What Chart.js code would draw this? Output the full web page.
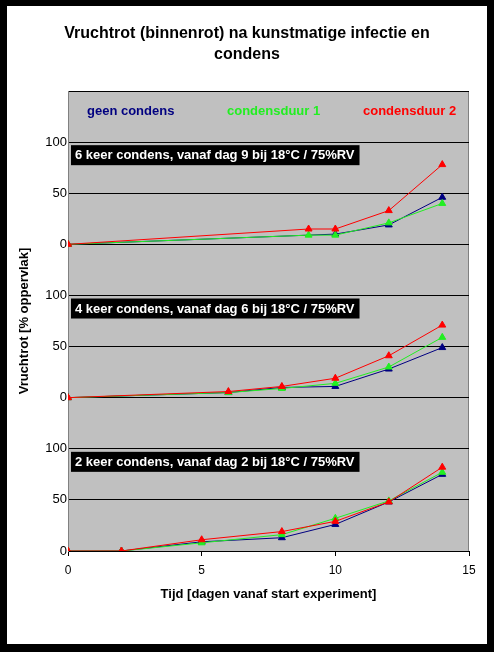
<!DOCTYPE html>
<html>
<head>
<meta charset="utf-8">
<script src="https://cdn.jsdelivr.net/npm/chart.js@4.4.1/dist/chart.umd.min.js"></script>
<style>
    body { margin: 0; background: #000; }
    #frame { position: absolute; left: 7px; top: 6px; width: 480px; height: 638px; background: #fff; }
</style>
</head>
<body>
<div id="frame"><canvas id="rotChart" width="480" height="638"></canvas></div>
<script>
// reeksen
const seriesNames = ['geen condens', 'condensduur 1', 'condensduur 2'];
const seriesColors = ['#000080', '#22ee22', '#ff0000'];
const panelTitles = [
    '6 keer condens, vanaf dag 9 bij 18°C / 75%RV',
    '4 keer condens, vanaf dag 6 bij 18°C / 75%RV',
    '2 keer condens, vanaf dag 2 bij 18°C / 75%RV'
];
const panelOffsets = [300, 150, 0]; // elk paneel 0-100, verschoven op één as

// 6 keer condens
const days6x = [0, 9, 10, 12, 14];
const geen6x = [0, null, 10, 19, 46];
const duur1_6x = [0, 9, 9, 21, 40];
const duur2_6x = [0, 15, 15, 33, 78];
// 4 keer condens
const days4x = [0, 6, 8, 10, 12, 14];
const geen4x = [0, 5, 10, 11, 28, 49];
const duur1_4x = [0, 5, 9, 14, 30, 59];
const duur2_4x = [0, 6, 11, 19, 41, 71];
// 2 keer condens
const days2x = [0, 2, 5, 8, 10, 12, 14];
const geen2x = [0, 0, 9, 13, 26, 48, 75];
const duur1_2x = [0, 0, 8, 16, 32, 49, 77];
const duur2_2x = [0, 0, 11, 19, 29, 48, 82];

const xTicks = [0, 5, 10, 15];
const yTickLabels = ['0', '50', '100'];

const panels = [
    { days: days6x, values: [geen6x, duur1_6x, duur2_6x] },
    { days: days4x, values: [geen4x, duur1_4x, duur2_4x] },
    { days: days2x, values: [geen2x, duur1_2x, duur2_2x] }
];

const FONT = 'Arial, "Liberation Sans", sans-serif';

const datasets = [];
panels.forEach((panel, p) => {
    panel.values.forEach((vals, s) => {
        datasets.push({
            label: seriesNames[s],
            data: panel.days.map((d, i) => ({ x: d, y: vals[i] === null ? null : vals[i] + panelOffsets[p] })),
            borderColor: seriesColors[s],
            backgroundColor: seriesColors[s],
            borderWidth: 1,
            pointStyle: 'triangle',
            pointRadius: 4,
            pointBorderWidth: 1,
            spanGaps: true,
            order: 3 - s // rood bovenop
        });
    });
});

// grijze achtergrond, kaders, paneeltitels en legenda
const plotDecor = {
    id: 'plotDecor',
    beforeDraw(chart) {
        const { ctx, chartArea: a } = chart;
        ctx.save();
        ctx.fillStyle = '#c0c0c0';
        ctx.fillRect(a.left, a.top, a.width, a.height);
        ctx.strokeStyle = '#808080';
        ctx.lineWidth = 1;
        ctx.strokeRect(a.left + 0.5, a.top + 0.5, a.width - 1, a.height);
        ctx.restore();
    },
    afterDraw(chart) {
        const { ctx, chartArea: a, scales } = chart;
        ctx.save();
        ctx.textBaseline = 'middle';
        // paneeltitels
        ctx.font = 'bold 13px ' + FONT;
        panelTitles.forEach((t, p) => {
            const top = scales.y.getPixelForValue(panelOffsets[p] + 97);
            const w = ctx.measureText(t).width;
            ctx.fillStyle = '#000';
            ctx.fillRect(a.left + 3, top, w + 9, 20);
            ctx.fillStyle = '#fff';
            ctx.textAlign = 'left';
            ctx.fillText(t, a.left + 7, top + 10.5);
        });
        // legenda als tekst
        const legendX = [a.left + 19, a.left + 159, a.left + 295];
        ctx.font = 'bold 13px ' + FONT;
        seriesNames.forEach((n, s) => {
            ctx.fillStyle = seriesColors[s];
            ctx.fillText(n, legendX[s], a.top + 20);
        });
        ctx.restore();
    }
};

const ctx = document.getElementById('rotChart').getContext('2d');
const rotChart = new Chart(ctx, {
    type: 'line',
    data: { datasets: datasets },
    plugins: [plotDecor],
    options: {
        responsive: false,
        animation: false,
        layout: { padding: { left: 9, right: 9, top: 0, bottom: 0 } },
        plugins: {
            legend: { display: false },
            tooltip: { enabled: false },
            title: {
                display: true,
                text: ['Vruchtrot (binnenrot) na kunstmatige infectie en', 'condens'],
                color: '#000',
                font: { family: FONT, size: 16, weight: 'bold', lineHeight: '21px' },
                padding: { top: 17, bottom: 26 }
            }
        },
        scales: {
            x: {
                type: 'linear',
                min: 0,
                max: 15,
                afterBuildTicks: (scale) => { scale.ticks = xTicks.map(v => ({ value: v })); },
                afterFit: (scale) => { scale.height = 93; },
                grid: { drawOnChartArea: false, drawTicks: true, tickLength: 5, color: '#000' },
                border: { color: '#000', width: 1 },
                ticks: { color: '#000', padding: 7, font: { family: FONT, size: 12 } },
                title: {
                    display: true,
                    text: 'Tijd [dagen vanaf start experiment]',
                    color: '#000',
                    font: { family: FONT, size: 13, weight: 'bold' },
                    padding: { top: 0, bottom: 42 }
                }
            },
            y: {
                min: 0,
                max: 450,
                afterFit: (scale) => { scale.width = 52; },
                grid: { color: '#000', drawTicks: false },
                border: { color: '#808080' },
                ticks: {
                    stepSize: 50,
                    padding: 1,
                    color: '#000',
                    font: { family: FONT, size: 13 },
                    callback: function(value) {
                        if (value >= 450) return '';
                        return yTickLabels[(value % 150) / 50];
                    }
                },
                title: {
                    display: true,
                    text: 'Vruchtrot [% oppervlak]',
                    color: '#000',
                    font: { family: FONT, size: 13, weight: 'bold' },
                    padding: { top: 1, bottom: 0 }
                }
            },
            // lege rechteras, alleen voor ruimte rechts van het plotvlak
            yRight: {
                position: 'right',
                min: 0,
                max: 450,
                afterFit: (scale) => { scale.width = 9; },
                grid: { drawOnChartArea: false, drawTicks: false },
                border: { display: false },
                ticks: { display: false }
            }
        }
    }
});
</script>
</body>
</html>
